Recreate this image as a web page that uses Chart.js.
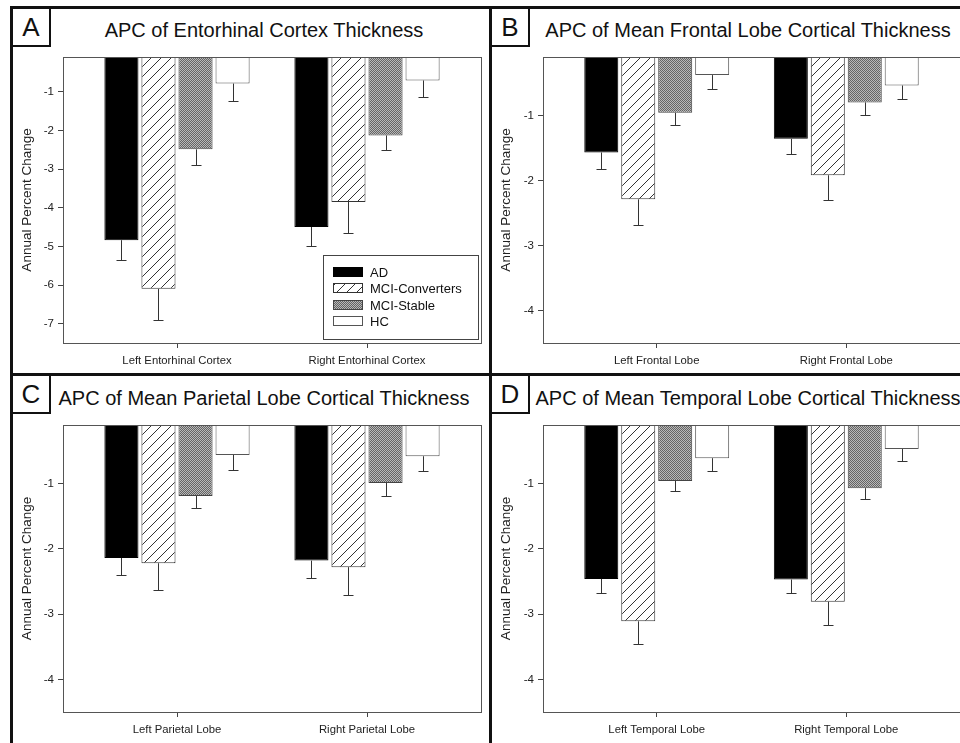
<!DOCTYPE html>
<html>
<head>
<meta charset="utf-8">
<script src="https://cdn.jsdelivr.net/npm/chart.js@4.4.1/dist/chart.umd.min.js"></script>
<style>
  body { margin: 0; background: #fff; font-family: "Liberation Sans", Arial, sans-serif; color: #111; }
  #fig { position: relative; width: 960px; height: 743px; overflow: hidden; background: #fff; }
  .rule { position: absolute; background: #111; }
  .tag { position: absolute; width: 36px; height: 36px; border: 2px solid #111; border-left: none; border-top: none;
         font-size: 26px; line-height: 37px; text-align: center; }
  .title { position: absolute; font-size: 20px; line-height: 1; white-space: nowrap; transform: translate(-50%, -50%); color: #111; }
  canvas { position: absolute; }
</style>
</head>
<body>
<div id="fig">
  <div class="rule" style="left:10px;top:6px;width:950px;height:3px"></div>
  <div class="rule" style="left:10px;top:373px;width:950px;height:3px"></div>
  <div class="rule" style="left:10px;top:6px;width:3px;height:737px"></div>
  <div class="rule" style="left:489px;top:6px;width:3px;height:737px"></div>

  <div class="tag" style="left:13px;top:9px">A</div>
  <div class="tag" style="left:492px;top:9px">B</div>
  <div class="tag" style="left:13px;top:376px">C</div>
  <div class="tag" style="left:492px;top:376px">D</div>

  <div class="title" style="left:264px;top:30px">APC of Entorhinal Cortex Thickness</div>
  <div class="title" style="left:748px;top:30px">APC of Mean Frontal Lobe Cortical Thickness</div>
  <div class="title" style="left:264px;top:398px">APC of Mean Parietal Lobe Cortical Thickness</div>
  <div class="title" style="left:748px;top:398px">APC of Mean Temporal Lobe Cortical Thickness</div>

  <canvas id="chartA" width="476" height="327" style="left:13px;top:46px"></canvas>
  <canvas id="chartB" width="468" height="327" style="left:492px;top:46px"></canvas>
  <canvas id="chartC" width="476" height="329" style="left:13px;top:414px"></canvas>
  <canvas id="chartD" width="468" height="329" style="left:492px;top:414px"></canvas>
</div>

<script>
// groups (legend order) and axis labels
const groups = ['AD', 'MCI-Converters', 'MCI-Stable', 'HC'];
const entorhinalLabels = ['Left Entorhinal Cortex', 'Right Entorhinal Cortex'];
const frontalLabels = ['Left Frontal Lobe', 'Right Frontal Lobe'];
const parietalLabels = ['Left Parietal Lobe', 'Right Parietal Lobe'];
const temporalLabels = ['Left Temporal Lobe', 'Right Temporal Lobe'];
const entorhinalTicks = [-1, -2, -3, -4, -5, -6, -7];
const lobeTicks = [-1, -2, -3, -4];

// mean APC per group: [left, right]
const entorhinalMeans = [[-4.84, -4.50], [-6.10, -3.85], [-2.49, -2.13], [-0.79, -0.71]];
const entorhinalErrors = [[0.51, 0.50], [0.80, 0.80], [0.40, 0.37], [0.44, 0.44]];
const frontalMeans = [[-1.57, -1.36], [-2.29, -1.92], [-0.96, -0.80], [-0.38, -0.54]];
const frontalErrors = [[0.25, 0.24], [0.40, 0.38], [0.19, 0.19], [0.22, 0.21]];
const parietalMeans = [[-2.14, -2.18], [-2.22, -2.28], [-1.19, -0.99], [-0.56, -0.58]];
const parietalErrors = [[0.26, 0.27], [0.41, 0.42], [0.19, 0.20], [0.23, 0.22]];
const temporalMeans = [[-2.46, -2.47], [-3.11, -2.81], [-0.96, -1.07], [-0.61, -0.47]];
const temporalErrors = [[0.21, 0.21], [0.35, 0.36], [0.16, 0.17], [0.19, 0.19]];

Chart.defaults.font.family = '"Liberation Sans", Arial, sans-serif';
Chart.defaults.color = '#222';

// fill patterns
function makeHatch() {
  const c = document.createElement('canvas');
  c.width = 10; c.height = 10;
  const g = c.getContext('2d');
  g.fillStyle = '#fff';
  g.fillRect(0, 0, 10, 10);
  g.strokeStyle = '#333';
  g.lineWidth = 1;
  g.beginPath();
  g.moveTo(-1, 11); g.lineTo(11, -1);
  g.moveTo(-1, 1); g.lineTo(1, -1);
  g.moveTo(9, 11); g.lineTo(11, 9);
  g.stroke();
  return g.createPattern(c, 'repeat');
}
function makeDots() {
  const c = document.createElement('canvas');
  c.width = 2; c.height = 2;
  const g = c.getContext('2d');
  g.fillStyle = '#b8b8b8';
  g.fillRect(0, 0, 2, 2);
  g.fillStyle = '#646464';
  g.fillRect(0, 0, 1, 1);
  g.fillRect(1, 1, 1, 1);
  return g.createPattern(c, 'repeat');
}
const fills = ['#000', makeHatch(), makeDots(), '#fff'];
const borders = ['#000', '#333', '#444', '#555'];

// downward error bars
const errorBars = {
  id: 'errorBars',
  afterDatasetsDraw(chart) {
    const ctx = chart.ctx;
    const y = chart.scales.y;
    ctx.save();
    ctx.strokeStyle = '#333';
    ctx.lineWidth = 1;
    chart.data.datasets.forEach((ds, i) => {
      chart.getDatasetMeta(i).data.forEach((bar, j) => {
        const x = Math.round(bar.x) + 0.5;
        const low = Math.round(y.getPixelForValue(ds.data[j].y - ds.errors[j])) + 0.5;
        ctx.beginPath();
        ctx.moveTo(x, bar.y);
        ctx.lineTo(x, low);
        ctx.moveTo(x - 5, low);
        ctx.lineTo(x + 5, low);
        ctx.stroke();
      });
    });
    ctx.restore();
  }
};

// box around the plot area
const plotFrame = {
  id: 'plotFrame',
  afterDatasetsDraw(chart) {
    const a = chart.chartArea;
    const ctx = chart.ctx;
    ctx.save();
    ctx.strokeStyle = '#555';
    ctx.lineWidth = 1;
    ctx.strokeRect(Math.round(a.left) + 0.5, Math.round(a.top) + 0.5,
                   Math.round(a.right - a.left), Math.round(a.bottom - a.top));
    ctx.restore();
  }
};

// boxed legend inside the plot (panel A only)
const boxLegend = {
  id: 'boxLegend',
  afterDraw(chart) {
    if (!chart.options.plugins.boxLegend.show) return;
    const a = chart.chartArea;
    const ctx = chart.ctx;
    const w = 155, h = 84;
    const right = Math.round(a.right) - 3, bottom = Math.round(a.bottom) - 4;
    const left = right - w, top = bottom - h;
    ctx.save();
    ctx.fillStyle = '#fff';
    ctx.fillRect(left, top, w, h);
    ctx.strokeStyle = '#444';
    ctx.lineWidth = 1;
    ctx.strokeRect(left + 0.5, top + 0.5, w, h);
    ctx.font = '13px "Liberation Sans", Arial, sans-serif';
    ctx.textBaseline = 'middle';
    chart.data.datasets.forEach((ds, i) => {
      const cy = Math.round(top + 17 + i * 16.3);
      ctx.fillStyle = ds.backgroundColor;
      ctx.fillRect(left + 10, cy - 5, 29, 10);
      ctx.strokeStyle = ds.borderColor;
      ctx.strokeRect(left + 10.5, cy - 4.5, 29, 9);
      ctx.fillStyle = '#111';
      ctx.fillText(ds.label, left + 47, cy + 1);
    });
    ctx.restore();
  }
};

function createPanel(canvasId, labels, means, errors, yMin, yTicks, padTop, xHeight, yWidth, padRight, showLegend) {
  const ctx = document.getElementById(canvasId).getContext('2d');
  new Chart(ctx, {
    type: 'bar',
    data: {
      datasets: groups.map((g, i) => ({
        label: g,
        data: means[i].map((v, k) => ({ x: k, y: v })),
        errors: errors[i],
        backgroundColor: fills[i],
        borderColor: borders[i],
        borderWidth: 1,
        categoryPercentage: 0.78,
        barPercentage: 0.92
      }))
    },
    options: {
      responsive: false,
      animation: false,
      layout: { padding: { top: padTop, right: padRight, left: 0, bottom: 0 } },
      scales: {
        x: {
          type: 'linear',
          min: -0.6,
          max: 1.6,
          offset: false,
          grid: { drawOnChartArea: false, drawTicks: true, tickLength: 5, color: '#444', offset: false },
          border: { display: false },
          afterBuildTicks: s => { s.ticks = labels.map((l, k) => ({ value: k })); },
          afterFit: s => { s.height = xHeight; },
          ticks: {
            padding: 6,
            maxRotation: 0,
            autoSkip: false,
            font: { size: 11.3 },
            callback: v => labels[v]
          }
        },
        y: {
          min: yMin,
          max: -0.1,
          grid: { drawOnChartArea: false, drawTicks: true, tickLength: 5, color: '#444' },
          border: { display: false },
          afterBuildTicks: s => { s.ticks = yTicks.map(v => ({ value: v })); },
          afterFit: s => { s.width = yWidth; },
          ticks: { padding: 4, font: { size: 11.5 } },
          title: {
            display: true,
            text: 'Annual Percent Change',
            font: { size: 13.5 },
            padding: { top: 6, bottom: 0 }
          }
        }
      },
      plugins: {
        legend: { display: false },
        tooltip: { enabled: false },
        boxLegend: { show: showLegend }
      }
    },
    plugins: [errorBars, plotFrame, boxLegend]
  });
}

createPanel('chartA', entorhinalLabels, entorhinalMeans, entorhinalErrors, -7.5, entorhinalTicks, 7, 30, 50, 8, true);
createPanel('chartB', frontalLabels, frontalMeans, frontalErrors, -4.5, lobeTicks, 7, 30, 51, 0, false);
createPanel('chartC', parietalLabels, parietalMeans, parietalErrors, -4.5, lobeTicks, 8, 31, 50, 8, false);
createPanel('chartD', temporalLabels, temporalMeans, temporalErrors, -4.5, lobeTicks, 8, 31, 51, 0, false);
</script>
</body>
</html>
